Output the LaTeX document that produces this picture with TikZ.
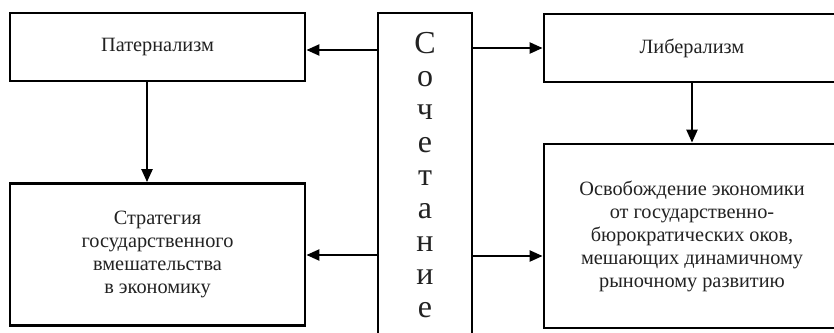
\documentclass[tikz,border=0pt]{standalone}
\usepackage{fontspec}
\setmainfont{Liberation Serif}
\usetikzlibrary{arrows.meta}
\definecolor{txt}{HTML}{222222}
\begin{document}
\begin{tikzpicture}[x=1pt,y=-1pt,
  box/.style={draw=black,line width=2.8pt,rectangle,inner sep=0pt,align=center,
    text=txt,font=\fontsize{20.3}{23}\selectfont},
  conn/.style={line width=2.3pt,-{Triangle[length=13pt,width=11pt]}}]
\useasboundingbox (0,0) rectangle (834,332);
\fill[white] (0,0) rectangle (834,332);
\node[box,minimum width=295pt,minimum height=68pt] (pat) at (157.5,47) {Патернализм};
\node[box,minimum width=295pt,minimum height=142pt] (str) at (157.5,254.5) {Стратегия\\государственного\\вмешательства\\в экономику};
\node[box,minimum width=296pt,minimum height=68pt] (lib) at (692,48) {Либерализм};
\node[box,minimum width=296pt,minimum height=184pt] (osv) at (692,236) {Освобождение экономики\\от государственно-\\бюрократических оков,\\мешающих динамичному\\рыночному развитию};
\node[draw=black,line width=2.8pt,minimum width=94pt,minimum height=340pt,inner sep=0pt] (soc) at (425,183) {};
\node[anchor=north,align=center,inner sep=0pt,text=txt,font=\fontsize{32}{33}\selectfont] (soct) at (425,32) {С\\о\\ч\\е\\т\\а\\н\\и\\е};
\draw[conn] (soc.west |- 0,50) -- (pat.east |- 0,50);
\draw[conn] (soc.east |- 0,48) -- (lib.west |- 0,48);
\draw[conn] (soc.west |- 0,255) -- (str.east |- 0,255);
\draw[conn] (soc.east |- 0,256) -- (osv.west |- 0,256);
\draw[conn] (pat.south -| 147,0) -- (str.north -| 147,0);
\draw[conn] (lib.south) -- (osv.north);
\end{tikzpicture}
\end{document}
